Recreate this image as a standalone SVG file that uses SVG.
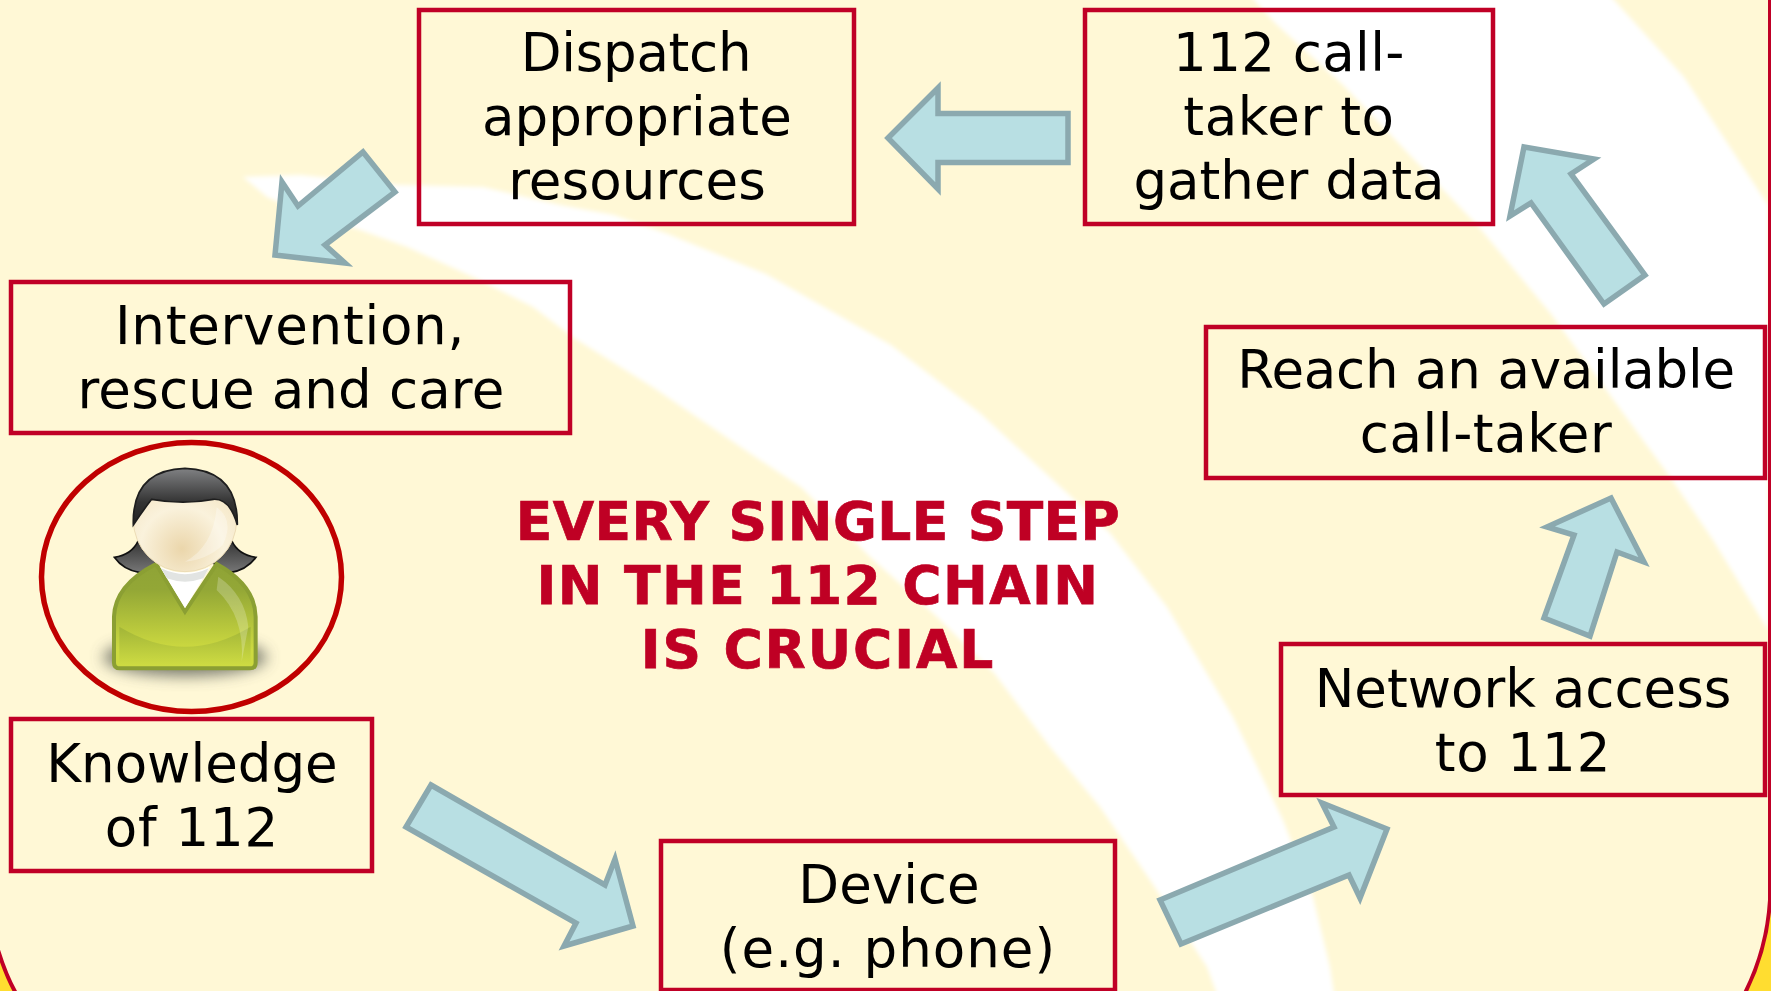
<svg xmlns="http://www.w3.org/2000/svg" width="1771" height="991" viewBox="0 0 1771 991">
<style>
.box{fill:none;stroke:#c00026;stroke-width:4.5}
.t{font-family:"DejaVu Sans",Verdana,sans-serif;font-size:53px;fill:#000;text-anchor:middle}
.h{font-family:"DejaVu Sans",Verdana,sans-serif;font-size:53.5px;font-weight:bold;fill:#bf0024;stroke:#bf0024;stroke-width:0.7;text-anchor:middle}
.a{fill:#b8dfe3;stroke:#8ba9af;stroke-width:5.5;stroke-linejoin:miter;stroke-miterlimit:10}
</style>
<defs>
<filter id="soft" x="-5%" y="-5%" width="110%" height="110%"><feGaussianBlur stdDeviation="2"/></filter>
<filter id="blur" x="-30%" y="-60%" width="160%" height="220%"><feGaussianBlur stdDeviation="22"/></filter>
<linearGradient id="body" gradientUnits="userSpaceOnUse" x1="0" y1="430" x2="0" y2="690"><stop offset="0" stop-color="#8fa336"/><stop offset="0.3" stop-color="#93a736"/><stop offset="1" stop-color="#cdda40"/></linearGradient>
<linearGradient id="lower" gradientUnits="userSpaceOnUse" x1="0" y1="625" x2="0" y2="735"><stop offset="0" stop-color="#a3b638"/><stop offset="1" stop-color="#cddb42"/></linearGradient>
<linearGradient id="hair" x1="0" y1="0" x2="0" y2="1"><stop offset="0" stop-color="#808183"/><stop offset="0.6" stop-color="#333"/><stop offset="1" stop-color="#222"/></linearGradient>
<linearGradient id="tail" x1="0" y1="0" x2="0" y2="1"><stop offset="0" stop-color="#333"/><stop offset="1" stop-color="#777"/></linearGradient>
<radialGradient id="skin" cx="0.47" cy="0.78" r="0.62"><stop offset="0" stop-color="#ebd6ab"/><stop offset="0.65" stop-color="#faf2dc"/><stop offset="1" stop-color="#f6e9ca"/></radialGradient>
</defs>
<g id="background">
<rect width="1771" height="991" fill="#ffdd30"/>
<path d="M-5,-5H1770V900Q1767,950 1744,995H17Q5,975 -5,940Z" fill="#fff8d6"/>
<g filter="url(#soft)" fill="#fff">
<path d="M243,177L300,175L400,185L483,187L560,205L614,215L668,234L766,274L891,345L980,413L1065,491L1110,533L1167,607L1233,717L1283,820L1313,897L1330,967L1335,1000L1219,1000L1207,967L1150,880L1100,807L1050,747L994,673L936,616L869,556L802,488L748,452L654,388L574,338L533,307L473,277L407,247L360,230L300,212L267,197Z"/>
<path d="M1245,-10L1275,23L1344,86L1404,149L1478,226L1551,314L1615,402L1670,477L1713,540L1768,630L1768,205L1684,77L1605,-10Z"/>
</g>
<path d="M1770,-5V900Q1767,950 1744,995M17,995Q5,975 -5,940" fill="none" stroke="#c00026" stroke-width="4"/>
</g>
<g id="connectors">
<path class="a" d="M431,785L605,885L615,859L633,926L564,946L576,923L406,827Z"/>
<path class="a" d="M1160,900L1334,827L1322,803L1387,829L1360,898L1349,875L1181,944Z"/>
<path class="a" d="M1611,498L1644,562L1617,552L1590,636L1544,618L1574,535L1547,527Z"/>
<path class="a" d="M1524,147L1594,159L1571,174L1645,275L1604,304L1531,203L1510,216Z"/>
<path class="a" d="M888,138L938,88V113.500H1068V162.500H938V189Z"/>
<path class="a" d="M363,152L395,192L325,245L345,263L275,255L282,182L298,206Z"/>
</g>
<g id="node-dispatch"><rect class="box" x="419" y="10" width="435" height="214"/><text class="t"><tspan x="636" y="71" letter-spacing="-0.3">Dispatch</tspan><tspan x="637" y="135" letter-spacing="0.1">appropriate</tspan><tspan x="637" y="199" letter-spacing="0.1">resources</tspan></text></g>
<g id="node-calltaker"><rect class="box" x="1085" y="10" width="408" height="214"/><text class="t"><tspan x="1289" y="71" letter-spacing="0.4">112 call-</tspan><tspan x="1289" y="135" letter-spacing="0.6">taker to</tspan><tspan x="1289" y="199">gather data</tspan></text></g>
<g id="node-intervention"><rect class="box" x="11" y="282" width="559" height="151"/><text class="t"><tspan x="290" y="344" letter-spacing="0.75">Intervention,</tspan><tspan x="291" y="408" letter-spacing="0.16">rescue and care</tspan></text></g>
<g id="node-reach"><rect class="box" x="1206" y="327" width="559" height="151"/><text class="t"><tspan x="1486" y="388" letter-spacing="-0.2">Reach an available</tspan><tspan x="1486" y="452" letter-spacing="0.6">call-taker</tspan></text></g>
<g id="node-network"><rect class="box" x="1281" y="644" width="484" height="151"/><text class="t"><tspan x="1523" y="707">Network access</tspan><tspan x="1523" y="771" letter-spacing="0.9">to 112</tspan></text></g>
<g id="node-knowledge"><rect class="box" x="11" y="719" width="361" height="152"/><text class="t"><tspan x="192" y="782">Knowledge</tspan><tspan x="192" y="846" letter-spacing="0.9">of 112</tspan></text></g>
<g id="node-device"><rect class="box" x="661" y="841" width="454" height="149"/><text class="t"><tspan x="889" y="903">Device</tspan><tspan x="888" y="967" letter-spacing="1.03">(e.g. phone)</tspan></text></g>
<g id="message"><text class="h"><tspan x="818" y="540" letter-spacing="0.42">EVERY SINGLE STEP</tspan><tspan x="818" y="604" letter-spacing="1.43">IN THE 112 CHAIN</tspan><tspan x="818" y="668" letter-spacing="1.9">IS CRUCIAL</tspan></text></g>
<g id="node-person">
<ellipse cx="191.500" cy="577" rx="150" ry="134.500" fill="none" stroke="#c00000" stroke-width="5.5"/>
<g transform="translate(0,420) scale(0.3333)">
<ellipse cx="555" cy="712" rx="245" ry="55" fill="#5d6158" opacity="0.85" filter="url(#blur)"/>
<path d="M415,362Q395,405 343,412Q370,450 420,458L470,430Z" fill="url(#tail)" stroke="#111" stroke-width="5"/>
<path d="M695,362Q715,405 768,412Q740,450 690,458L640,430Z" fill="url(#tail)" stroke="#111" stroke-width="5"/>
<path d="M468,432Q345,495 342,590V728Q342,745 360,745H750Q767,745 767,728V590Q765,495 650,432L555,575Z" fill="url(#body)" stroke="#8b9f33" stroke-width="12"/>
<path d="M358,620Q555,740 752,620V738H358Z" fill="url(#lower)"/>
<path d="M480,440Q555,475 630,440L555,565Z" fill="#fff"/>
<path d="M484,445Q555,480 626,445L610,475Q555,495 500,475Z" fill="#e2e4e2"/>
<path d="M655,470Q735,525 745,620L725,725Q735,590 650,510Z" fill="#fff" opacity="0.22"/>
<ellipse cx="555" cy="300" rx="155" ry="155" fill="url(#skin)" stroke="#ecdcb6" stroke-width="3"/>
<path d="M650,262Q705,300 668,375Q620,420 555,425Q640,380 650,262Z" fill="#fff" opacity="0.3"/>
<path d="M400,315Q395,150 555,145Q715,150 712,315Q690,235 640,238Q550,255 455,238Q430,270 400,315Z" fill="url(#hair)" stroke="#1e1e1e" stroke-width="5"/>
</g>
</g>
</svg>
